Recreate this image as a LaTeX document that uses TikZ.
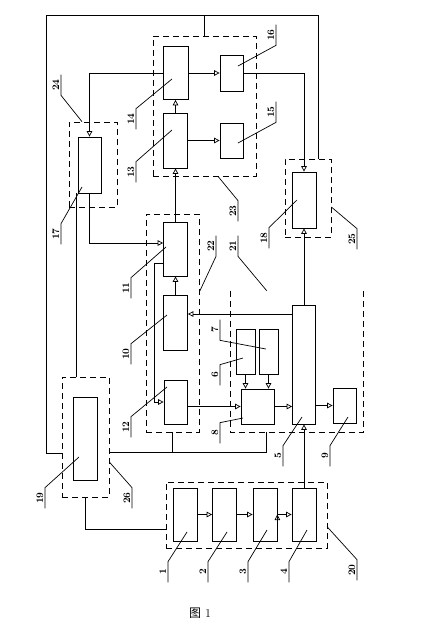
\documentclass[tikz,border=0pt]{standalone}
\usepackage{fontspec}
\newfontfamily\cjk{Noto Sans CJK SC}
\usetikzlibrary{arrows.meta}
\tikzstyle{block}=[rectangle, draw, inner sep=0pt]
\tikzstyle{group}=[rectangle, draw, dash pattern=on 6pt off 4pt, inner sep=0pt]
\tikzstyle{tag}=[rotate=90, anchor=south, minimum width=20pt, inner xsep=0pt, inner ysep=1.5pt, font=\bfseries]
\newcommand{\block}{\node[block]}
\newcommand{\group}{\node[group]}
% number, its underline and its leader
\newcommand{\callout}[6]{%
  \node[tag] (#1) at (#3) {#2};
  \draw (#1.#4) -- (#1.#5) -- (#6);
}

\begin{document}
\begin{tikzpicture}[x=1pt, y=-1pt, line width=0.7pt,
    >={Triangle[open, length=5.5pt, width=5.5pt]}
]
\useasboundingbox (0,0) rectangle (421,638);
% dashed groups
\group (g23) at (204.5,106) [minimum width=103pt, minimum height=140pt] {};
\group (g25) at (308,198) [minimum width=46pt, minimum height=78pt] {};
\group (g24) at (93,164.5) [minimum width=48pt, minimum height=85pt] {};
\group (g22) at (172.5,323) [minimum width=53pt, minimum height=218pt] {};
\node (g21) at (297,361.5) [minimum width=132pt, minimum height=141pt, inner sep=0pt] {};
\draw[dash pattern=on 6pt off 4pt] (g21.north west) |- (g21.south east) -- (g21.north east);
\group (g26) at (85.5,437) [minimum width=47pt, minimum height=120pt] {};
\group (g20) at (246.5,515) [minimum width=161pt, minimum height=66pt] {};
% blocks
\block (b14) at (175.5,73) [minimum width=25pt, minimum height=53pt] {};
\block (b13) at (175.5,140.5) [minimum width=24pt, minimum height=55pt] {};
\block (b16) at (231.5,73) [minimum width=23pt, minimum height=36pt] {};
\block (b15) at (231.5,140.5) [minimum width=23pt, minimum height=35pt] {};
\block (b18) at (304,200) [minimum width=24pt, minimum height=56pt] {};
\block (b17) at (89.5,165) [minimum width=23pt, minimum height=56pt] {};
\block (b11) at (175.5,249) [minimum width=24pt, minimum height=54pt] {};
\block (b10) at (175.5,322.5) [minimum width=24pt, minimum height=55pt] {};
\block (b12) at (175.5,402) [minimum width=23pt, minimum height=44pt] {};
\block (b5) at (304,364.5) [minimum width=23pt, minimum height=119pt] {};
\block (b6) at (245.5,351.5) [minimum width=19pt, minimum height=45pt] {};
\block (b7) at (268.5,351.5) [minimum width=19pt, minimum height=45pt] {};
\block (b8) at (257.5,406.5) [minimum width=33pt, minimum height=35pt] {};
\block (b9) at (344.5,405.5) [minimum width=23pt, minimum height=35pt] {};
\block (b19) at (85,438.5) [minimum width=24pt, minimum height=83pt] {};
\block (b1) at (185,514.5) [minimum width=24pt, minimum height=53pt] {};
\block (b2) at (224.5,514.5) [minimum width=24pt, minimum height=53pt] {};
\block (b3) at (265,514.5) [minimum width=24pt, minimum height=53pt] {};
\block (b4) at (304,514.5) [minimum width=24pt, minimum height=53pt] {};
% corners of the long lines
\coordinate (ltop) at (46,15);
\coordinate (lbot) at (46,453);
\coordinate (rtop) at (318,15);
\coordinate (jn) at (266,452);
\coordinate (o17) at ([xshift=-13.5pt]b17.south);
\coordinate (in10) at ([yshift=8.5pt]b10.east);
\draw (g26.west |- lbot) -- (lbot) -- (ltop) -- (rtop) -- (rtop |- g25.north);
\draw (g23.north) -- (g23.north |- ltop);
\draw (o17) -- (o17 |- g26.north);
\draw (g26.east |- jn) -- (jn) -- (jn |- g21.south);
\draw (g22.south) -- (g22.south |- jn);
\draw (g26.south) |- ([yshift=-14pt]g20.west);
\draw[->] (b16.east) -| (b18.north);
\draw[->] (b14.west) -| (b17.north);
\draw[->] (b17.south) |- ([yshift=6pt]b11.west);
\draw[->] ([yshift=-14pt]b11.west) -- ++(-9,0) |- (b12.west);
\draw[->] (in10 -| b5.west) -- (in10);
\path[draw, ->]
(b13.north) edge (b14.south)
(b14.east) edge (b16.west)
(b13.east) edge (b15.west)
(b11.north) edge (b13.south)
(b10.north) edge (b11.south)
(b12.east |- b8.west) edge (b8.west)
(b6.south) edge (b6.south |- b8.north)
(b7.south) edge (b7.south |- b8.north)
(b8.east) edge (b8.east -| b5.west)
(b9.west -| b5.east) edge (b9.west)
(b5.north) edge (b18.south)
(b4.north) edge (b5.south)
(b1.east) edge (b2.west)
(b2.east) edge (b3.west)
(b3.east) edge (b4.west)
;
% numbers
\callout{t24}{24}{61,85}{south east}{south west}{[xshift=-11pt]g24.north}
\callout{t14}{14}{136,119}{south west}{south east}{[xshift=-3.5pt,yshift=-6pt]b14.center}
\callout{t13}{13}{136,172}{south west}{south east}{[xshift=-3.5pt,yshift=10.5pt]b13.center}
\callout{t16}{16}{276,35}{south east}{south west}{[xshift=6.5pt,yshift=7pt]b16.center}
\callout{t15}{15}{276,112}{south east}{south west}{[xshift=6.5pt,yshift=-2.5pt]b15.center}
\callout{t23}{23}{238,211}{south west}{south east}{[xshift=13.5pt]g23.south}
\callout{t18}{18}{269,238}{south west}{south east}{[xshift=-7pt]b18.center}
\callout{t25}{25}{357,239}{south west}{south east}{[yshift=-9pt]g25.east}
\callout{t17}{17}{61,234}{south west}{south east}{[xshift=-7.5pt,yshift=-22pt]b17.center}
\callout{t22}{22}{216,246}{south east}{south west}{[yshift=31pt]g22.east}
\callout{t21}{21}{238,246}{south east}{south west}{[xshift=36pt]g21.north west}
\callout{t11}{11}{131,288}{south west}{south east}{[xshift=-9.5pt,yshift=2pt]b11.center}
\callout{t10}{10}{131,354}{south west}{south east}{[xshift=-8.5pt,yshift=7.5pt]b10.center}
\callout{t12}{12}{131,427}{south west}{south east}{[xshift=-8.5pt,yshift=15pt]b12.center}
\callout{t7}{7}{220,330}{south east}{south west}{[xshift=-2.5pt,yshift=2.5pt]b7.center}
\callout{t6}{6}{220,375}{south west}{south east}{[xshift=-2.5pt,yshift=-6.5pt]b6.center}
\callout{t8}{8}{220,433}{south west}{south east}{[xshift=-14.5pt,yshift=-11.5pt]b8.center}
\callout{t5}{5}{283,456}{south west}{south east}{[xshift=-2pt,yshift=-52.5pt]b5.center}
\callout{t9}{9}{330,456}{south west}{south east}{[xshift=3.5pt,yshift=-11.5pt]b9.center}
\callout{t19}{19}{45,498}{south west}{south east}{[xshift=-6pt,yshift=-18.5pt]b19.center}
\callout{t26}{26}{132,498}{south west}{south east}{[yshift=-25pt]g26.east}
\callout{t1}{1}{168,572}{south west}{south east}{[xshift=2pt,yshift=-17.5pt]b1.center}
\callout{t2}{2}{208,572}{south west}{south east}{[xshift=2.5pt,yshift=-17.5pt]b2.center}
\callout{t3}{3}{248,572}{south west}{south east}{[xshift=2pt,yshift=-15.5pt]b3.center}
\callout{t4}{4}{289,572}{south west}{south east}{[xshift=3pt,yshift=-15.5pt]b4.center}
\callout{t20}{20}{357,570}{south west}{south east}{[yshift=-12pt]g20.east}
\node (cap) at (200,613) [font=\large] {{\cjk 图} 1};
\end{tikzpicture}
\end{document}
